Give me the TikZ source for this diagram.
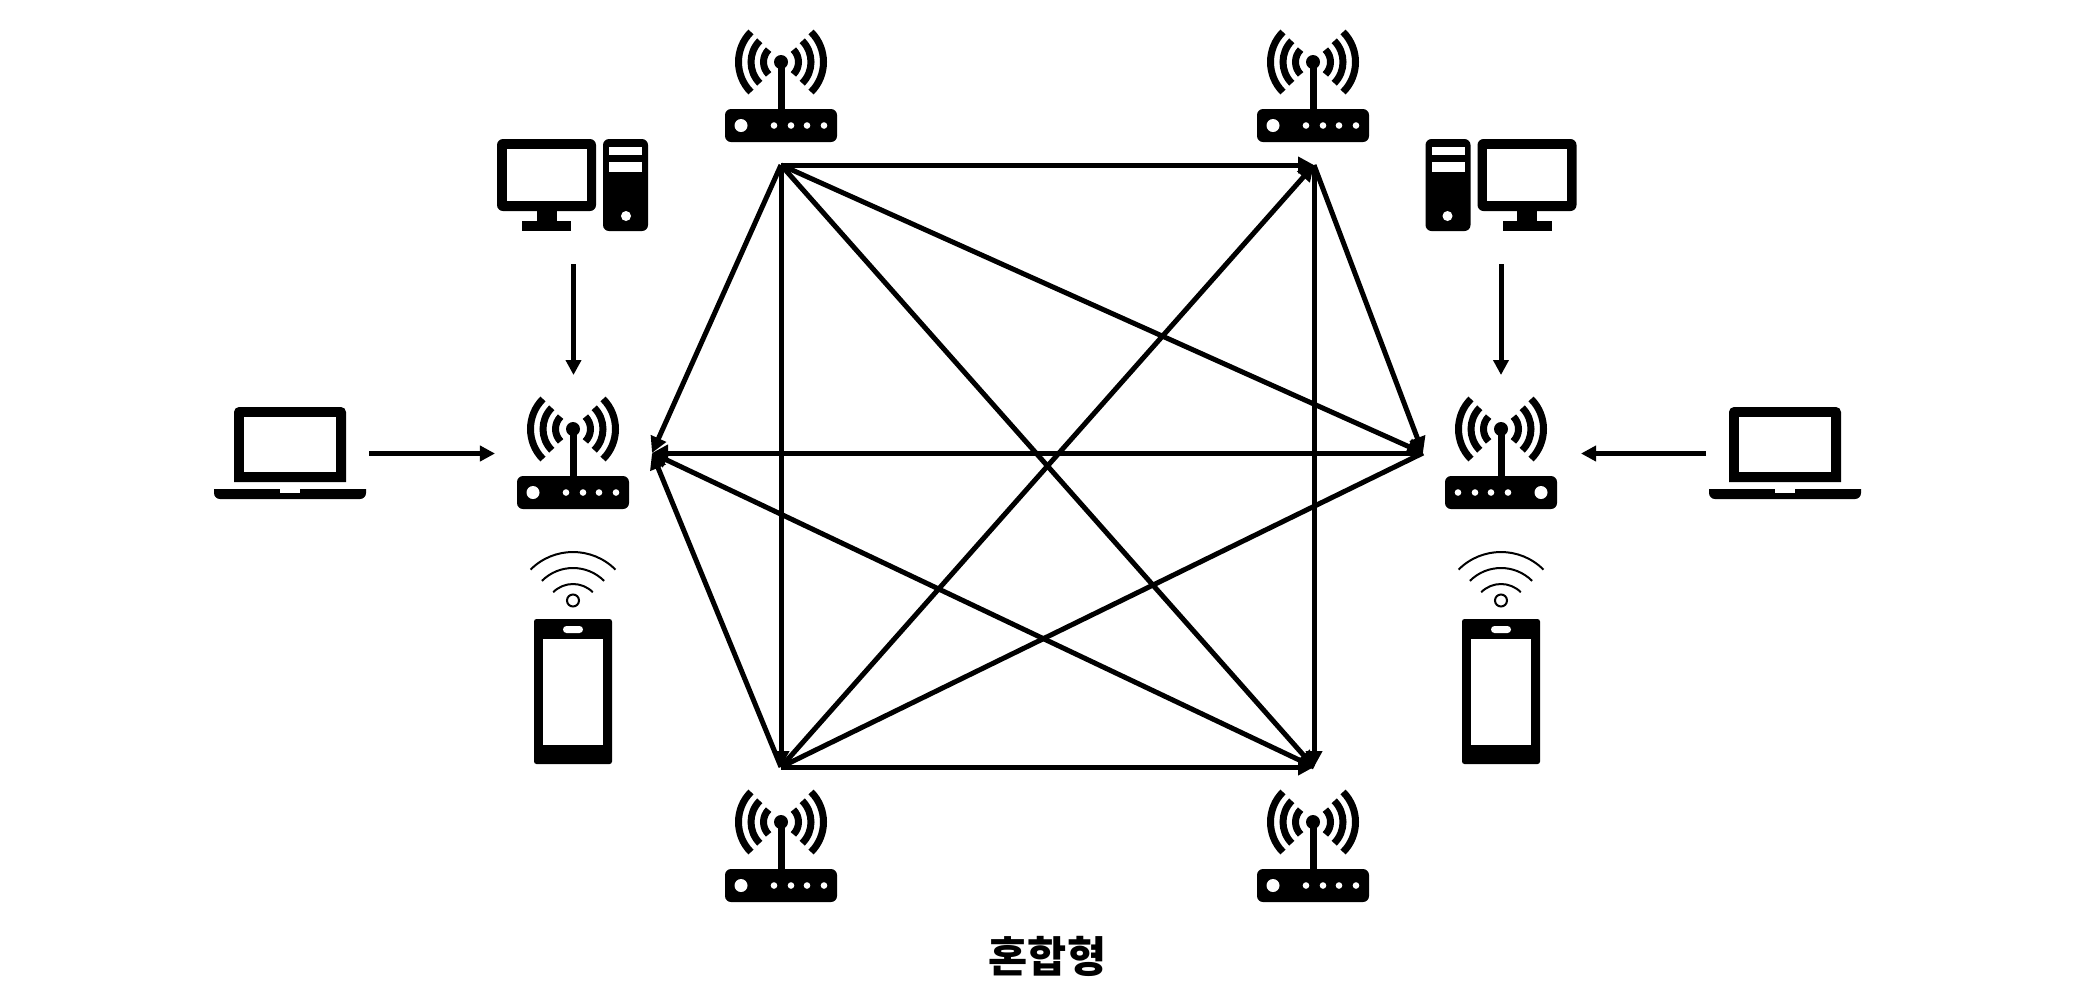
\documentclass[tikz,border=0pt]{standalone}
\usepackage{fontspec}
\newfontfamily\krfont{Noto Sans CJK KR}
\usetikzlibrary{arrows.meta}

\tikzset{
  link/.style={line width=0.05cm,-{Triangle[length=0.16cm,width=0.16cm]}},
  plainlink/.style={line width=0.05cm},
  feed/.style={line width=0.05cm,-{Triangle[length=0.15cm,width=0.15cm]}},
  router/.pic={
    \fill[rounded corners=0.06cm] (-56,-16.5) rectangle (56,16.5);
    \fill[white] (-40,0) circle (6.5);
    \foreach \d in {-7,10,26,43} \fill[white] (\d,0) circle (3.3);
    \draw[line width=0.07cm] (0,-16.5) -- (0,-63.5);
    \fill (0,-63.5) circle (7);
    \begin{scope}[shift={(0,-63.5)},line width=0.07cm]
      \foreach \r in {17.5,30,42.5} {
        \draw (225:\r) arc[start angle=225,end angle=135,radius=\r];
        \draw (-45:\r) arc[start angle=-45,end angle=45,radius=\r];
      }
    \end{scope}
  },
  desktop/.pic={
    \fill[rounded corners=0.06cm] (-76.5,-45.5) rectangle (22.5,26.5);
    \fill[white] (-66.5,-35.5) rectangle (13.5,16.5);
    \fill (-36.5,26) rectangle (-16.5,37);
    \fill (-51.5,36.5) rectangle (-2.5,46.5);
    \fill[rounded corners=0.06cm] (29.5,-45.5) rectangle (74.5,46.5);
    \fill[white] (35.5,-38) rectangle (68.5,-29.5);
    \fill[white] (35.5,-22.5) rectangle (68.5,-12.5);
    \fill[white] (52.5,31.5) circle (5);
  },
  laptop/.pic={
    \fill (-56,29) [rounded corners=0.05cm] -- (-56,-46) -- (56,-46) [sharp corners] -- (56,29) -- cycle;
    \fill[white] (-46,-36) rectangle (46,19);
    \fill (-76,36) [rounded corners=0.06cm] -- (-76,46) -- (76,46) [sharp corners] -- (76,36) -- cycle;
    \fill[white] (-10,36) rectangle (10,40);
  },
  phone/.pic={
    \fill[rounded corners=0.025cm] (-39,-72.5) rectangle (39,72.5);
    \fill[white] (-30,-52.5) rectangle (30,53.5);
    \fill[white,rounded corners=0.035cm] (-10,-65.5) rectangle (10,-58.5);
    \draw[line width=0.02cm] (0,-91) circle (6);
    \begin{scope}[shift={(0,-79.5)},line width=0.02cm]
      \foreach \r in {28,44,60}
        \draw (225:\r) arc[start angle=225,end angle=315,radius=\r];
    \end{scope}
  }
}

\begin{document}
\begin{tikzpicture}[x=0.01cm,y=-0.01cm]
\useasboundingbox (0,0) rectangle (2096,1002);

\pic at (781,125.5) {router};
\pic at (1313,125.5) {router};
\pic at (573,492.5) {router};
\pic[xscale=-1] at (1501,492.5) {router};
\pic at (781,885.5) {router};
\pic at (1313,885.5) {router};

\pic at (573.5,184.5) {desktop};
\pic[xscale=-1] at (1500,184.5) {desktop};
\pic at (290,453) {laptop};
\pic at (1785,453) {laptop};
\pic at (573,691.5) {phone};
\pic at (1501,691.5) {phone};

\coordinate (rt1) at (781,165);
\coordinate (rt2) at (1314,165);
\coordinate (rr) at (1423,453);
\coordinate (rb2) at (1314,767);
\coordinate (rb1) at (781,767);
\coordinate (rl) at (652,453);

\coordinate (pc1) at (573.5,264);
\coordinate (hub1) at (573.5,375);
\coordinate (pc2) at (1501,264);
\coordinate (hub2) at (1501,375);
\coordinate (lap1) at (369,453.5);
\coordinate (hub3) at (495,453.5);
\coordinate (lap2) at (1706,453.5);
\coordinate (hub4) at (1581,453.5);

\draw[link] (rt1) -- (rt2);
\draw[link] (rt1) -- (rr);
\draw[link] (rt1) -- (rb2);
\draw[link] (rt1) -- (rb1);
\draw[link] (rt1) -- (rl);
\draw[link] (rt2) -- (rr);
\draw[link] (rt2) -- (rb2);
\draw[link] (rb1) -- (rt2);
\draw[plainlink] (rb1) -- (rr);
\draw[link] (rb1) -- (rb2);
\draw[link] (rb1) -- (rl);
\draw[link] (rr) -- (rl);
\draw[link] (rb2) -- (rl);

\draw[feed] (pc1) -- (hub1);
\draw[feed] (pc2) -- (hub2);
\draw[feed] (lap1) -- (hub3);
\draw[feed] (lap2) -- (hub4);

\node (title) at (1047.5,956) {\fontsize{12.1}{13}\selectfont\krfont\bfseries 혼합형};
\end{tikzpicture}
\end{document}
